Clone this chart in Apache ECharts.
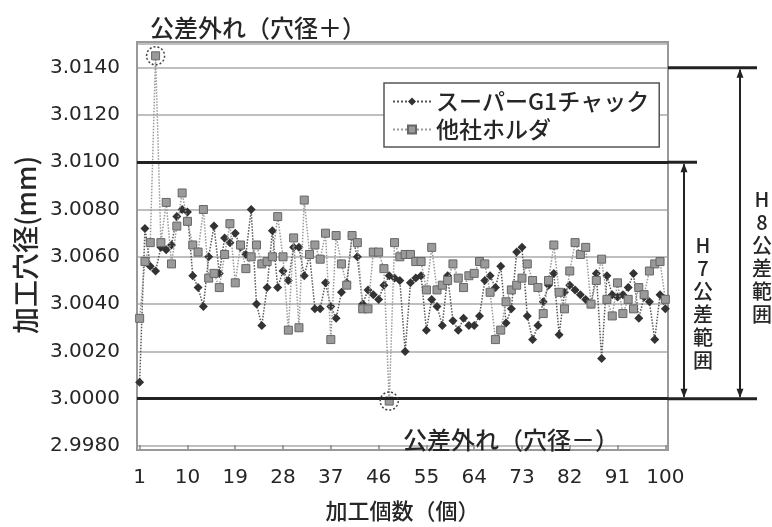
<!DOCTYPE html>
<html><head><meta charset="utf-8">
<script src="https://cdn.jsdelivr.net/npm/echarts@6/dist/echarts.min.js"></script>
<style>html,body{margin:0;padding:0;background:#fff}#c{width:772px;height:527px}</style>
</head><body><div id="c"></div>
<script>
// ---- data ----
const categories = Array.from({length: 100}, (_, i) => String(i + 1));
const seriesNames = ['スーパーG1チャック', '他社ホルダ'];
const g1Values = [
 3.0007,3.0072,3.0056,3.0054,3.0064,3.0063,3.0065,3.0077,3.0080,3.0079,
 3.0052,3.0047,3.0039,3.0060,3.0073,3.0053,3.0068,3.0066,3.0070,3.0064,
 3.0061,3.0080,3.0040,3.0031,3.0047,3.0071,3.0047,3.0054,3.0050,3.0064,
 3.0064,3.0052,3.0061,3.0038,3.0038,3.0049,3.0039,3.0034,3.0045,3.0049,
 3.0069,3.0060,3.0040,3.0046,3.0044,3.0042,3.0048,3.0052,3.0051,3.0050,
 3.0020,3.0049,3.0051,3.0052,3.0029,3.0042,3.0039,3.0031,3.0052,3.0033,
 3.0029,3.0034,3.0031,3.0031,3.0035,3.0050,3.0052,3.0047,3.0056,3.0032,
 3.0038,3.0062,3.0064,3.0035,3.0025,3.0031,3.0041,3.0048,3.0053,3.0027,
 3.0045,3.0048,3.0046,3.0044,3.0042,3.0040,3.0053,3.0017,3.0052,3.0044,
 3.0043,3.0044,3.0047,3.0053,3.0034,3.0043,3.0041,3.0025,3.0044,3.0038];
const otherValues = [
 3.0034,3.0058,3.0066,3.0145,3.0066,3.0083,3.0057,3.0073,3.0087,3.0075,
 3.0065,3.0062,3.0080,3.0051,3.0053,3.0047,3.0061,3.0074,3.0049,3.0065,
 3.0055,3.0060,3.0065,3.0057,3.0058,3.0060,3.0077,3.0060,3.0029,3.0068,
 3.0030,3.0084,3.0061,3.0065,3.0059,3.0070,3.0025,3.0069,3.0057,3.0048,
 3.0069,3.0066,3.0038,3.0038,3.0062,3.0062,3.0055,2.9999,3.0066,3.0060,
 3.0061,3.0061,3.0058,3.0058,3.0046,3.0064,3.0046,3.0048,3.0050,3.0057,
 3.0051,3.0047,3.0052,3.0053,3.0058,3.0057,3.0045,3.0025,3.0029,3.0041,
 3.0046,3.0048,3.0051,3.0057,3.0050,3.0047,3.0036,3.0050,3.0065,3.0045,
 3.0038,3.0054,3.0066,3.0061,3.0064,3.0040,3.0050,3.0059,3.0042,3.0035,
 3.0049,3.0036,3.0042,3.0038,3.0047,3.0044,3.0054,3.0057,3.0058,3.0042];
const yMin = 2.998, yMax = 3.015, yStep = 0.002;
const h8Upper = 3.014, h7Upper = 3.010, tolLower = 3.000;
const outlierIdx = [3, 47];               // 他社ホルダ points out of tolerance
const topNote = '公差外れ（穴径＋）';
const bottomNote = '公差外れ（穴径－）';
const h7Label = 'H7公差範囲';
const h8Label = 'H8公差範囲';

const NUM = 'DejaVu Sans';
const JP = '"Noto Sans CJK JP"';
const TXT = '#262626';

const chart = echarts.init(document.getElementById('c'), null, {renderer: 'canvas'});
chart.setOption({
  animation: false,
  backgroundColor: '#fff',
  grid: {left: 137, right: 104, top: 44, bottom: 68, show: false},
  legend: {
    left: 384, top: 83, orient: 'vertical',
    padding: [7, 10, 6, 8], itemGap: 5, itemWidth: 38, itemHeight: 10,
    backgroundColor: '#fff', borderColor: '#555', borderWidth: 1.5,
    textStyle: {fontFamily: JP, fontSize: 23, color: TXT, fontWeight: 500},
    data: seriesNames
  },
  xAxis: {
    type: 'category', data: categories, boundaryGap: true, offset: 4,
    axisLine: {show: false},
    axisTick: {show: true, inside: true, length: 5, alignWithLabel: true, interval: 8,
               lineStyle: {color: '#888', width: 1.5}},
    axisLabel: {interval: 8, margin: 18, fontFamily: NUM, fontSize: 20, color: TXT},
    name: '加工個数（個）', nameLocation: 'middle', nameGap: 50,
    nameTextStyle: {fontFamily: JP, fontSize: 22, color: TXT, fontWeight: 500}
  },
  yAxis: {
    type: 'value', min: yMin, max: yMax, interval: yStep,
    axisLine: {show: false}, axisTick: {show: false},
    axisLabel: {showMaxLabel: false, margin: 17, fontFamily: NUM, fontSize: 20, color: TXT,
      formatter: v => (v > yMax - 0.0005 ? '' : v.toFixed(4))},
    splitLine: {lineStyle: {color: '#aaa', width: 1.5}},
    name: '加工穴径(mm)', nameLocation: 'middle', nameRotate: 90, nameGap: 97,
    nameTextStyle: {fontFamily: JP, fontSize: 27, color: TXT, fontWeight: 500}
  },
  series: [
    {
      name: seriesNames[0], type: 'line', data: g1Values,
      symbol: 'diamond', symbolSize: 9, showAllSymbol: true,
      itemStyle: {color: '#333'},
      lineStyle: {color: '#555', type: 'dotted', width: 1.5},
      z: 3,
      markLine: {
        silent: true, symbol: 'none', label: {show: false},
        lineStyle: {color: '#222', type: 'solid', width: 3},
        data: [{yAxis: h8Upper}, {yAxis: h7Upper}, {yAxis: tolLower}]
      }
    },
    {
      name: seriesNames[1], type: 'line', data: otherValues,
      symbol: 'rect', symbolSize: 8, showAllSymbol: true,
      itemStyle: {color: '#9a9a9a', borderColor: '#666', borderWidth: 1},
      lineStyle: {color: '#999', type: 'dotted', width: 1.5},
      z: 4
    }
  ]
});

// ---- annotations positioned through the chart's own scales ----
const yPx = v => chart.convertToPixel({yAxisIndex: 0}, v);
const xPx = i => chart.convertToPixel({xAxisIndex: 0}, i);
const leftX = 137, rightX = 668;
const y14 = yPx(h8Upper), y10 = yPx(h7Upper), y00 = yPx(tolLower);
const yTop = yPx(yMax), yBot = yPx(yMin);
const dark = '#222';
const g = [];
g.push({type: 'rect', shape: {x: leftX, y: yTop - 2, width: rightX - leftX, height: (yBot + 4) - (yTop - 2)},
  style: {fill: 'none', stroke: '#999', lineWidth: 2}, z: 1});
g.push({type: 'line', shape: {x1: rightX, y1: y14, x2: 757, y2: y14}, style: {stroke: dark, lineWidth: 3}, z: 5});
g.push({type: 'line', shape: {x1: rightX, y1: y10, x2: 697, y2: y10}, style: {stroke: dark, lineWidth: 3}, z: 5});
g.push({type: 'line', shape: {x1: rightX, y1: y00, x2: 757, y2: y00}, style: {stroke: dark, lineWidth: 3}, z: 5});
function arrow(x, ya, yb) {
  g.push({type: 'line', shape: {x1: x, y1: ya + 2, x2: x, y2: yb - 2}, style: {stroke: dark, lineWidth: 2}, z: 5});
  g.push({type: 'polygon', shape: {points: [[x, ya + 1], [x - 3.5, ya + 10], [x + 3.5, ya + 10]]}, style: {fill: dark}, z: 5});
  g.push({type: 'polygon', shape: {points: [[x, yb - 1], [x - 3.5, yb - 10], [x + 3.5, yb - 10]]}, style: {fill: dark}, z: 5});
}
arrow(684, y10, y00);
arrow(740, y14, y00);
g.push({type: 'text', x: 703, y: (y10 + y00) / 2 + 22, z: 5,
  style: {text: h7Label.split('').join('\n'), fontFamily: JP, fontSize: 20, lineHeight: 23, fontWeight: 500,
          fill: TXT, align: 'center', verticalAlign: 'middle'}});
g.push({type: 'text', x: 762, y: (y14 + y00) / 2 + 24, z: 5,
  style: {text: h8Label.split('').join('\n'), fontFamily: JP, fontSize: 20, lineHeight: 23, fontWeight: 500,
          fill: TXT, align: 'center', verticalAlign: 'middle'}});
outlierIdx.forEach(i => {
  g.push({type: 'circle', shape: {cx: xPx(i), cy: yPx(otherValues[i]), r: 9},
    style: {fill: 'none', stroke: '#444', lineWidth: 1.5, lineDash: [2, 2]}, z: 6});
});
g.push({type: 'text', x: 150, y: 28, z: 5,
  style: {text: topNote, fontFamily: JP, fontSize: 24, fontWeight: 500, fill: TXT, align: 'left', verticalAlign: 'middle'}});
g.push({type: 'text', x: 403, y: 440, z: 5,
  style: {text: bottomNote, fontFamily: JP, fontSize: 24, fontWeight: 500, fill: TXT, align: 'left', verticalAlign: 'middle'}});
chart.setOption({graphic: g});
</script></body></html>
